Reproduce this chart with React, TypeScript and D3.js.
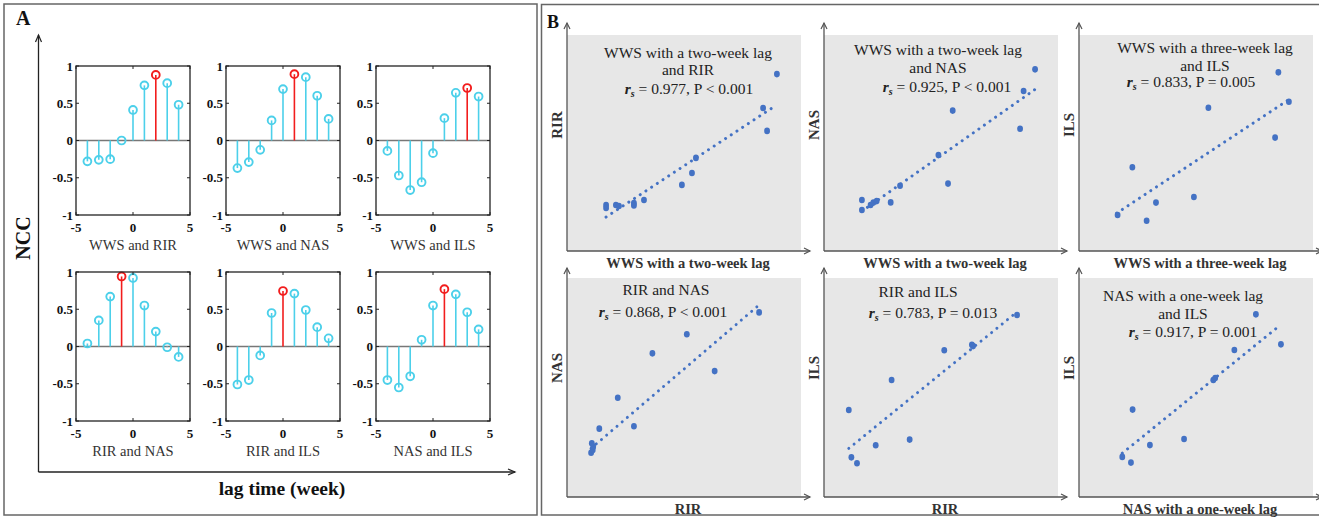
import React from "react";
import * as d3 from "d3";

// ---------- Panel A data (normalized cross-correlation by lag) ----------
const lags = [-4, -3, -2, -1, 0, 1, 2, 3, 4];
const nccLabels = ["WWS and RIR", "WWS and NAS", "WWS and ILS", "RIR and NAS", "RIR and ILS", "NAS and ILS"];
const nccWwsRir = [-0.28, -0.26, -0.25, 0.0, 0.41, 0.74, 0.88, 0.77, 0.48];
const nccWwsNas = [-0.37, -0.29, -0.125, 0.27, 0.69, 0.89, 0.85, 0.6, 0.29];
const nccWwsIls = [-0.14, -0.47, -0.665, -0.56, -0.17, 0.3, 0.64, 0.705, 0.59];
const nccRirNas = [0.04, 0.35, 0.67, 0.94, 0.92, 0.55, 0.2, -0.01, -0.14];
const nccRirIls = [-0.51, -0.45, -0.12, 0.45, 0.745, 0.71, 0.49, 0.26, 0.11];
const nccNasIls = [-0.45, -0.55, -0.4, 0.09, 0.55, 0.77, 0.7, 0.46, 0.23];
const nccPeakLag = [2, 1, 3, -1, 0, 1];
const nccXTicks = [-5, 0, 5];
const nccYTicks = [-1, -0.5, 0, 0.5, 1];

// ---------- Panel B data (scatter, relative units 0-100) ----------
const b1X = [16.7, 16.7, 20.9, 22.2, 28.6, 28.6, 32.9, 49.1, 53.4, 55.1, 83.8, 85.5, 89.7];
const b1Y = [21.3, 19.9, 21.3, 20.8, 22.2, 21.1, 23.6, 30.6, 36.1, 43.1, 66.2, 55.6, 81.9];
const b1Trend = [16.7, 15.7, 88.9, 67.1];

const b2X = [16.2, 16.2, 19.9, 21.1, 22.5, 28.5, 32.5, 48.9, 53.0, 55.0, 83.8, 85.3, 90.2];
const b2Y = [23.6, 19.0, 21.3, 22.4, 23.1, 22.5, 30.2, 44.4, 31.2, 65.0, 56.6, 74.1, 84.1];
const b2Trend = [16.2, 18.4, 90.2, 74.8];

const b3X = [16.5, 28.9, 32.9, 22.8, 49.1, 55.3, 83.8, 85.2, 89.7];
const b3Y = [16.7, 14.0, 22.4, 38.8, 25.0, 66.3, 52.5, 82.7, 69.1];
const b3Trend = [16.1, 17.5, 89.4, 69.9];

const b4X = [10.3, 11.0, 11.2, 10.6, 13.8, 21.7, 28.6, 36.5, 51.2, 63.1, 82.1];
const b4Y = [20.2, 21.5, 23.0, 24.5, 31.2, 45.3, 32.3, 65.6, 74.3, 57.5, 84.3];
const b4Trend = [10.3, 22.2, 82.1, 87.7];

const b5X = [10.6, 11.7, 14.1, 22.1, 28.9, 36.6, 51.4, 63.2, 63.7, 82.5];
const b5Y = [39.7, 18.1, 15.4, 23.6, 53.4, 26.2, 67.0, 69.5, 68.9, 83.1];
const b5Trend = [10.6, 22.2, 82.5, 84.5];

const b6X = [18.5, 22.2, 22.9, 30.3, 44.9, 57.4, 58.2, 66.4, 75.6, 86.3];
const b6Y = [18.3, 15.7, 39.9, 23.7, 26.5, 53.4, 54.3, 67.1, 83.4, 69.7];
const b6Trend = [18.5, 20.0, 85.2, 77.8];

const bTitles = [
  ["WWS with a two-week lag", "and RIR"],
  ["WWS with a two-week lag", "and NAS"],
  ["WWS with a three-week lag", "and ILS"],
  ["RIR and NAS"],
  ["RIR and ILS"],
  ["NAS with a one-week lag", "and ILS"],
];
const bStats = [" = 0.977, P < 0.001", " = 0.925, P < 0.001", " =  0.833, P = 0.005", " = 0.868, P < 0.001", " = 0.783, P = 0.013", " = 0.917, P = 0.001"];
const bXLabels = ["WWS with a two-week lag", "WWS with a two-week lag", "WWS with a three-week lag", "RIR", "RIR", "NAS with a one-week lag"];
const bYLabels = ["RIR", "NAS", "ILS", "NAS", "ILS", "ILS"];

// ---------- layout ----------
const W = 1319;
const H = 518;
const SERIF = "'Liberation Serif', 'Times New Roman', serif";
const CYAN = "#4cd0ea";
const RED = "#f21d1d";
const BLUE = "#4472c4";

const nccSeries = [nccWwsRir, nccWwsNas, nccWwsIls, nccRirNas, nccRirIls, nccNasIls];
const bSets = [
  { x: b1X, y: b1Y, t: b1Trend },
  { x: b2X, y: b2Y, t: b2Trend },
  { x: b3X, y: b3Y, t: b3Trend },
  { x: b4X, y: b4Y, t: b4Trend },
  { x: b5X, y: b5Y, t: b5Trend },
  { x: b6X, y: b6Y, t: b6Trend },
];
// title anchor positions (line centers) per scatter panel
const titlePos = [
  [[688, 53], [688, 70], [689, 89]],
  [[938, 50], [938, 68], [947, 87]],
  [[1205, 48], [1205, 66], [1191, 82]],
  [[666, 290], [663, 312]],
  [[918, 292], [933, 313]],
  [[1183, 296], [1183, 314], [1193, 332]],
];

function NccPlot({ i }: { i: number }) {
  const col = i % 3;
  const row = Math.floor(i / 3);
  const left = 76 + col * 150;
  const top = 66 + row * 206;
  const w = 114;
  const h = 149;
  const x = d3.scaleLinear().domain([-5, 5]).range([left, left + w]);
  const y = d3.scaleLinear().domain([-1, 1]).range([top + h, top]);
  const vals = nccSeries[i];
  const tl = 3;
  return (
    <g>
      <line x1={left} x2={left + w} y1={y(0)} y2={y(0)} stroke="#777" strokeWidth={1.3} />
      {lags.map((lag, k) => {
        const c = lag === nccPeakLag[i] ? RED : CYAN;
        return (
          <g key={k}>
            <line x1={x(lag)} x2={x(lag)} y1={y(0)} y2={y(vals[k])} stroke={c} strokeWidth={1.6} />
            <circle cx={x(lag)} cy={y(vals[k])} r={3.9} fill="none" stroke={c} strokeWidth={1.9} />
          </g>
        );
      })}
      <rect x={left} y={top} width={w} height={h} fill="none" stroke="#222" strokeWidth={1.3} />
      {nccXTicks.map((t) => (
        <g key={"xt" + t}>
          <line x1={x(t)} x2={x(t)} y1={top + h} y2={top + h - tl} stroke="#222" />
          <line x1={x(t)} x2={x(t)} y1={top} y2={top + tl} stroke="#222" />
          <text x={x(t)} y={top + h + 17} textAnchor="middle" fontFamily={SERIF} fontWeight="bold" fontSize={13} fill="#111">
            {t}
          </text>
        </g>
      ))}
      {nccYTicks.map((t) => (
        <g key={"yt" + t}>
          <line x1={left} x2={left + tl} y1={y(t)} y2={y(t)} stroke="#222" />
          <line x1={left + w} x2={left + w - tl} y1={y(t)} y2={y(t)} stroke="#222" />
          <text x={left - 3} y={y(t) + 4.5} textAnchor="end" fontFamily={SERIF} fontWeight="bold" fontSize={13} fill="#111">
            {t}
          </text>
        </g>
      ))}
      <text x={left + w / 2} y={top + h + 35} textAnchor="middle" fontFamily={SERIF} fontSize={14.5} fill="#333">
        {nccLabels[i]}
      </text>
    </g>
  );
}

function ScatterPlot({ i }: { i: number }) {
  const col = i % 3;
  const row = Math.floor(i / 3);
  const axX = [567, 824, 1079][col];
  const rw = 234;
  const axY = [251, 497][row];
  const rTop = [35, 278][row];
  const arrowTop = [23, 268][row];
  const x = d3.scaleLinear().domain([0, 100]).range([axX, axX + rw]);
  const y = d3.scaleLinear().domain([0, 100]).range([axY, rTop]);
  const s = bSets[i];
  const tp = titlePos[i];
  const titles = bTitles[i];
  const ax = "#555";
  const tipR = axX + rw + 9;
  return (
    <g>
      <rect x={axX} y={rTop} width={rw} height={axY - rTop} fill="#e7e7e7" />
      <line
        x1={x(s.t[0])}
        y1={y(s.t[1])}
        x2={x(s.t[2])}
        y2={y(s.t[3])}
        stroke={BLUE}
        strokeWidth={3}
        strokeLinecap="round"
        strokeDasharray="0.01 6.8"
      />
      {s.x.map((v, k) => (
        <ellipse key={k} cx={x(v)} cy={y(s.y[k])} rx={2.9} ry={3.3} fill={BLUE} />
      ))}
      <line x1={axX} y1={axY} x2={axX} y2={arrowTop} stroke={ax} strokeWidth={1.3} />
      <path d={`M${axX - 3},${arrowTop + 6}L${axX},${arrowTop}L${axX + 3},${arrowTop + 6}`} fill="none" stroke={ax} strokeWidth={1.2} />
      <line x1={axX} y1={axY} x2={tipR} y2={axY} stroke={ax} strokeWidth={1.3} />
      <path d={`M${tipR - 6},${axY - 3}L${tipR},${axY}L${tipR - 6},${axY + 3}`} fill="none" stroke={ax} strokeWidth={1.2} />
      {titles.map((t, k) => (
        <text key={k} x={tp[k][0]} y={tp[k][1] + 5} textAnchor="middle" fontFamily={SERIF} fontSize={15.5} fill="#222">
          {t}
        </text>
      ))}
      <text x={tp[titles.length][0]} y={tp[titles.length][1] + 5} textAnchor="middle" fontFamily={SERIF} fontSize={15.5} fill="#222">
        <tspan fontStyle="italic" fontWeight="bold">r</tspan>
        <tspan fontStyle="italic" fontWeight="bold" fontSize={10} dy={3}>s</tspan>
        <tspan dy={-3}>{bStats[i]}</tspan>
      </text>
      <text x={axX + rw / 2 + 4} y={axY + 17} textAnchor="middle" fontFamily={SERIF} fontWeight="bold" fontSize={14.5} fill="#333">
        {bXLabels[i]}
      </text>
      <text
        transform={`translate(${axX - 10},${rTop + 90}) rotate(-90)`}
        textAnchor="middle"
        dominantBaseline="central"
        fontFamily={SERIF}
        fontWeight="bold"
        fontSize={15}
        fill="#333"
      >
        {bYLabels[i]}
      </text>
    </g>
  );
}

export default function App() {
  return (
    <svg width={W} height={H} style={{ position: "absolute", left: 0, top: 0, display: "block", background: "#fff" }}>
      <rect x={4} y={4} width={533} height={511} fill="none" stroke="#666" strokeWidth={1.5} />
      <rect x={541.5} y={4.5} width={780} height={510.5} fill="none" stroke="#666" strokeWidth={1.5} />
      {/* Panel A */}
      <text x={16} y={25} fontFamily={SERIF} fontWeight="bold" fontSize={20} fill="#111">A</text>
      <line x1={38.5} y1={472} x2={38.5} y2={35} stroke="#222" strokeWidth={1.3} />
      <path d="M35.5,42L38.5,35L41.5,42" fill="none" stroke="#222" strokeWidth={1.2} />
      <line x1={38.5} y1={472} x2={515} y2={472} stroke="#222" strokeWidth={1.3} />
      <path d="M508,469L515,472L508,475" fill="none" stroke="#222" strokeWidth={1.2} />
      <text transform="translate(23,238) rotate(-90)" textAnchor="middle" dominantBaseline="central" fontFamily={SERIF} fontWeight="bold" fontSize={20} fill="#111">
        NCC
      </text>
      <text x={282} y={495} textAnchor="middle" fontFamily={SERIF} fontWeight="bold" fontSize={19.5} fill="#111">
        lag time (week)
      </text>
      {nccSeries.map((_, i) => (
        <NccPlot key={i} i={i} />
      ))}
      {/* Panel B */}
      <text x={547} y={28} fontFamily={SERIF} fontWeight="bold" fontSize={18} fill="#111">B</text>
      {bSets.map((_, i) => (
        <ScatterPlot key={i} i={i} />
      ))}
    </svg>
  );
}
